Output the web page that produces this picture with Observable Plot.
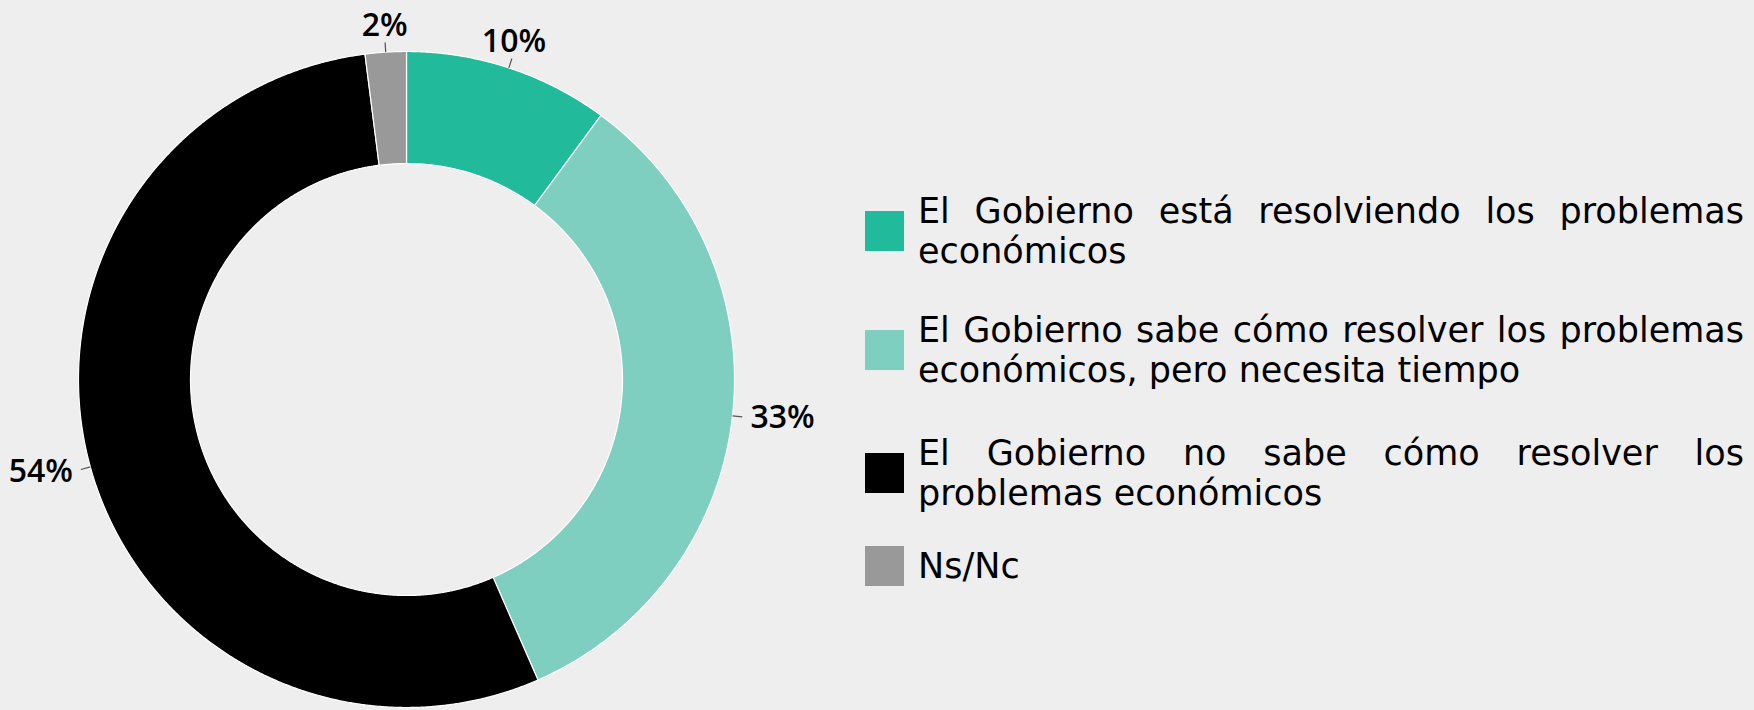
<!DOCTYPE html>
<html>
<head>
<meta charset="utf-8">
<script src="https://cdn.jsdelivr.net/npm/d3@7"></script>
<script src="https://cdn.jsdelivr.net/npm/@observablehq/plot@0.6"></script>
<style>
  html, body { margin: 0; padding: 0; background: #eeeeee; }
  #wrap { position: relative; width: 1754px; height: 710px; overflow: hidden; background: #eeeeee; }
  #chart { position: absolute; left: 0; top: 0; }
  #legend { position: absolute; left: 865px; top: 191px; width: 880px;
            font-family: "DejaVu Sans", sans-serif; font-size: 35px; line-height: 40px; color: #000; }
  .item { display: flex; align-items: center; }
  .item:nth-child(1) { margin-bottom: 39px; }
  .item:nth-child(2) { margin-bottom: 43px; }
  .item:nth-child(3) { margin-bottom: 33px; }
  .sw { width: 39px; height: 40px; flex: none; margin-right: 14px; }
  .lbl { width: 826px; text-align: justify; }
</style>
</head>
<body>
<div id="wrap">
  <div id="chart"></div>
  <div id="legend"></div>
</div>
<script>
// ---- data ----
const categories = [
  "El Gobierno está resolviendo los problemas económicos",
  "El Gobierno sabe cómo resolver los problemas económicos, pero necesita tiempo",
  "El Gobierno no sabe cómo resolver los problemas económicos",
  "Ns/Nc"
];
const values = [10, 33, 54, 2];
const valueLabels = ["10%", "33%", "54%", "2%"];
const colors = ["#21ba9b", "#7ecfbf", "#000000", "#999999"];

// ---- layout ----
const W = 812, H = 710, CX = 406, CY = 379, R = 328, R_IN = 216;

// ---- geometry derived from data (unit radius = outer ring) ----
const innerRatio = R_IN / R;
const total = d3.sum(values);
let acc = 0;
const slices = values.map((v, i) => {
  const a0 = acc / total * 2 * Math.PI; acc += v;
  const a1 = acc / total * 2 * Math.PI;
  return {category: categories[i], label: valueLabels[i], a0, a1, mid: (a0 + a1) / 2};
});
const pt = (r, a) => [r * Math.sin(a), -r * Math.cos(a)];
function ring(a0, a1, r0, r1) {
  const n = Math.max(2, Math.ceil((a1 - a0) / 0.004));
  const outer = d3.range(n + 1).map(k => pt(r1, a0 + (a1 - a0) * k / n));
  const inner = d3.range(n + 1).map(k => pt(r0, a1 - (a1 - a0) * k / n));
  const coords = outer.concat(inner);
  coords.push(coords[0]);
  return coords;
}
const features = slices.map(s => ({
  type: "Feature", properties: s,
  geometry: {type: "Polygon", coordinates: [ring(s.a0, s.a1, innerRatio, 1)]}
}));
const labelData = slices.map(s => {
  const sn = Math.sin(s.mid);
  const side = Math.abs(sn) < 0.5 ? "middle" : sn > 0 ? "start" : "end";
  const [x1, y1] = pt(1, s.mid), [x2, y2] = pt(1.03, s.mid);
  const [lx, ly] = pt(side === "middle" ? 1.05 : 1.055, s.mid);
  return {...s, side, x1, y1, x2, y2, lx, ly};
});

const font = {fontFamily: "Open Sans", fontWeight: 600, fontSize: 32, fill: "#000"};

const chart = Plot.plot({
  width: W, height: H,
  margin: 0,
  projection: {
    type: "identity",
    domain: {type: "MultiPoint", coordinates: [[-CX / R, -CY / R], [(W - CX) / R, (H - CY) / R]]}
  },
  color: {domain: categories, range: colors},
  style: {background: "transparent", overflow: "visible"},
  marks: [
    Plot.geo(features, {fill: d => d.properties.category, stroke: "#ffffff", strokeWidth: 1.2}),
    Plot.link(labelData, {x1: "x1", y1: "y1", x2: "x2", y2: "y2", stroke: "#555", strokeWidth: 1.2}),
    Plot.text(labelData, {filter: d => d.side === "middle", x: "lx", y: "ly", text: "label", textAnchor: "middle", lineAnchor: "bottom", ...font}),
    Plot.text(labelData, {filter: d => d.side === "start", x: "lx", y: "ly", text: "label", textAnchor: "start", lineAnchor: "middle", ...font}),
    Plot.text(labelData, {filter: d => d.side === "end", x: "lx", y: "ly", text: "label", textAnchor: "end", lineAnchor: "middle", ...font})
  ]
});
document.getElementById("chart").appendChild(chart);

// ---- legend ----
const legend = d3.select("#legend");
categories.forEach((c, i) => {
  const it = legend.append("div").attr("class", "item");
  it.append("div").attr("class", "sw").style("background", colors[i]);
  it.append("div").attr("class", "lbl").text(c);
});
</script>
</body>
</html>
